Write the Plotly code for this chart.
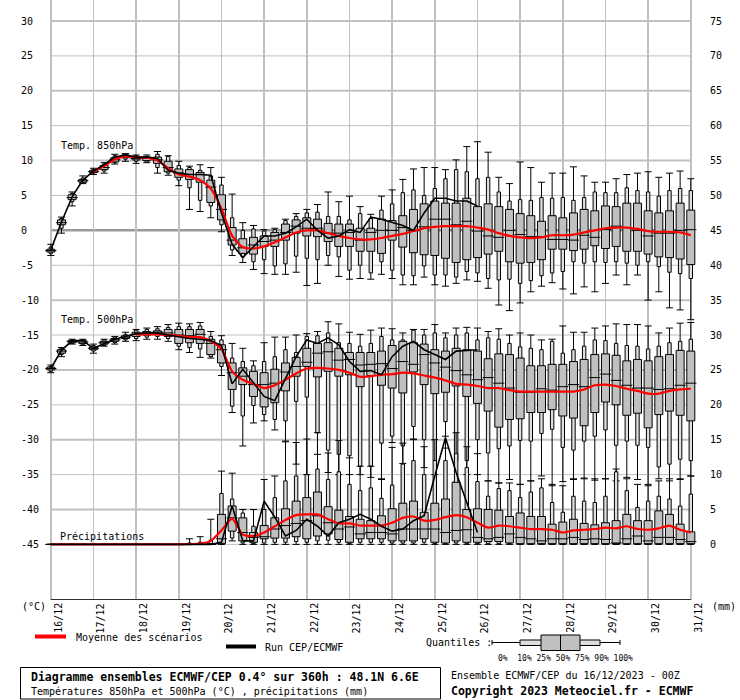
import plotly.graph_objects as go

# ---------------- data ----------------
hours = list(range(0, 361, 6))
day_hours = list(range(0, 361, 24))
day_labels = ["16/12", "17/12", "18/12", "19/12", "20/12", "21/12", "22/12", "23/12",
              "24/12", "25/12", "26/12", "27/12", "28/12", "29/12", "30/12", "31/12"]
temp_ticks = list(range(30, -50, -5))
mm_ticks = list(range(75, -5, -5))

t850_min = [-3.6, -0.4, 3.5, 6.7, 8.0, 8.2, 9.5, 9.9, 9.6, 9.7, 8.2, 7.9, 6.4, 3.0, 2.7, 1.8, -0.2, -3.6, -4.6, -5.6,
            -6.2, -6.3, -6.3, -6.0, -7.9, -7.6, -5.0, -6.6, -7.0, -6.9, -7.0, -6.3, -6.9, -7.8, -7.8, -6.7, -7.8, -8.0, -7.6, -7.1,
            -7.3, -8.3, -10.7, -11.5, -10.4, -8.8, -8.0, -7.5, -8.4, -9.1, -8.1, -8.8, -7.6, -6.4, -7.8, -6.4, -10.0, -8.8, -11.1, -11.4, -12.8]
t850_p10 = [-3.3, 0.3, 4.1, 6.8, 8.2, 8.5, 9.7, 10.2, 9.9, 9.8, 9.0, 8.2, 7.2, 6.1, 4.3, 3.5, 0.8, -2.8, -3.8, -4.5,
            -4.2, -5.1, -4.8, -3.7, -4.0, -4.2, -3.6, -3.8, -5.7, -5.0, -6.1, -4.5, -5.7, -6.4, -6.5, -5.1, -6.4, -6.4, -6.7, -5.9,
            -6.1, -6.9, -7.1, -7.0, -7.6, -7.2, -6.5, -6.1, -5.9, -4.5, -4.7, -4.5, -4.6, -4.5, -4.7, -5.0, -4.5, -5.2, -6.0, -6.2, -6.9]
t850_p25 = [-3.1, 0.8, 4.4, 6.9, 8.3, 8.7, 9.8, 10.4, 10.1, 10.0, 9.6, 8.4, 7.6, 7.3, 6.9, 4.0, 1.5, -2.1, -3.3, -3.4,
            -2.3, -2.3, -1.4, -0.4, -0.8, -0.9, -1.6, -2.3, -2.3, -3.0, -3.0, -3.3, -1.4, -2.4, -3.2, -3.5, -3.6, -4.0, -4.6, -4.2,
            -3.9, -3.4, -3.0, -4.5, -4.7, -4.6, -4.2, -2.7, -2.7, -2.9, -2.7, -2.2, -2.6, -2.3, -3.0, -3.0, -3.4, -3.8, -3.9, -4.1, -4.9]
t850_med = [-2.9, 1.1, 4.7, 7.1, 8.4, 9.0, 10.1, 10.6, 10.3, 10.3, 10.1, 9.0, 8.2, 8.0, 8.0, 6.2, 3.0, -1.4, -2.5, -2.1,
            -1.6, -1.4, -0.3, 0.6, 0.3, 0.3, -0.4, -0.4, -0.3, -1.4, -0.3, 0.0, 0.0, 0.4, 0.0, 0.5, 1.6, 1.6, 0.8, 1.3,
            -0.1, -0.8, -1.0, 0.0, -0.6, -0.9, -0.9, -1.3, -1.3, -1.4, -0.7, -1.0, 0.1, 0.6, 0.4, 0.0, -0.8, -0.4, -0.4, 0.0, 0.1]
t850_p75 = [-2.7, 1.5, 5.1, 7.3, 8.6, 9.3, 10.4, 10.8, 10.5, 10.5, 10.5, 9.9, 8.8, 8.7, 8.3, 7.2, 5.1, 0.4, -1.2, -1.0,
            -0.8, -0.3, 0.9, 1.5, 1.8, 1.6, 1.0, 0.9, 0.9, 0.3, 0.3, 1.6, 1.4, 2.1, 3.0, 3.8, 4.2, 3.9, 3.9, 4.6,
            3.4, 3.8, 3.4, 3.0, 2.4, 2.1, 1.3, 2.1, 1.8, 2.5, 3.0, 2.8, 3.5, 3.4, 3.9, 3.9, 2.8, 2.5, 2.8, 3.9, 2.9]
t850_p90 = [-2.4, 1.7, 5.3, 7.5, 8.7, 9.5, 10.7, 10.9, 10.7, 10.6, 10.9, 10.6, 9.3, 9.0, 8.6, 7.8, 6.5, 1.8, 0.0, 0.2,
            -0.1, 0.1, 1.4, 2.0, 2.5, 2.6, 2.0, 2.0, 1.5, 2.4, 1.7, 2.9, 3.8, 5.4, 5.8, 5.0, 6.0, 7.4, 8.7, 8.4,
            7.4, 7.6, 5.5, 4.2, 4.4, 4.3, 4.7, 4.6, 4.7, 4.3, 4.7, 5.5, 5.4, 5.4, 6.1, 5.7, 5.5, 4.9, 5.7, 6.0, 5.7]
t850_max = [-2.0, 1.9, 5.5, 7.8, 8.9, 9.7, 10.9, 11.0, 10.8, 10.8, 11.3, 10.7, 9.9, 9.2, 9.4, 9.0, 7.6, 5.2, 1.1, 0.7,
            0.1, 0.3, 1.6, 2.4, 3.0, 3.7, 5.5, 4.1, 4.9, 3.4, 2.3, 4.9, 5.8, 7.3, 8.8, 9.0, 9.0, 8.7, 10.1, 12.0,
            12.7, 11.2, 7.6, 6.7, 9.8, 9.0, 6.9, 8.2, 8.2, 9.1, 7.8, 6.9, 6.9, 7.4, 8.0, 8.2, 8.4, 7.6, 8.2, 8.5, 7.4]
t850_mean = [None, None, None, None, 8.4, 9.2, 10.2, 10.6, 10.5, 10.4, 10.0, 8.9, 8.0, 7.7, 7.2, 6.0, 3.1, -0.8, -2.4, -2.6,
             -2.3, -1.7, -1.0, -0.3, 0.0, 0.0, -0.4, -0.8, -1.1, -1.3, -1.3, -1.1, -0.8, -0.5, -0.1, 0.3, 0.5, 0.6, 0.6, 0.6,
             0.4, 0.1, -0.4, -0.8, -1.0, -1.1, -1.0, -0.7, -0.7, -0.6, -0.3, 0.0, 0.3, 0.4, 0.4, 0.2, -0.1, -0.2, -0.2, -0.3, -0.7]
t850_ctrl = [-2.8, 1.2, 4.8, 7.2, 8.5, 9.4, 10.5, 10.8, 10.5, 10.5, 10.3, 8.6, 8.2, 8.0, 8.0, 7.9, 2.5, -2.0, -3.9, -2.4,
             -0.8, -0.8, -0.4, 0.5, 1.6, 0.0, -1.1, -0.8, 0.1, -0.3, 1.9, 1.6, 1.2, 0.7, 0.0, 2.5, 4.6, 4.6, 4.2, 4.2, 3.5]

t500_min = [-20.4, -18.1, -16.3, -16.5, -17.6, -16.6, -16.3, -15.9, -15.8, -15.6, -15.6, -15.9, -17.1, -17.5, -18.2, -18.3, -20.8, -26.1, -30.9, -27.6,
            -27.3, -28.6, -30.3, -33.5, -35.0, -32.1, -34.7, -35.0, -35.0, -35.0, -35.4, -35.7, -30.4, -33.4, -29.9, -34.0, -35.0, -31.2, -36.1, -35.0,
            -35.0, -35.9, -36.2, -35.7, -36.4, -35.9, -35.2, -36.6, -36.0, -35.7, -35.5, -35.8, -35.6, -35.9, -35.4, -35.7, -36.4, -35.6, -35.9, -35.7, -35.2]
t500_p10 = [-20.2, -17.8, -16.2, -16.4, -17.3, -16.5, -16.1, -15.7, -15.5, -15.3, -15.2, -15.5, -16.6, -16.8, -17.0, -18.1, -19.5, -25.2, -26.6, -25.1,
            -26.4, -27.1, -27.3, -24.5, -23.9, -29.0, -31.5, -32.1, -32.3, -33.8, -33.8, -30.5, -29.5, -30.9, -28.1, -30.0, -33.0, -27.4, -33.0, -33.0,
            -30.0, -31.9, -31.3, -30.9, -30.1, -30.2, -29.1, -28.5, -31.1, -31.5, -30.2, -29.5, -28.6, -30.8, -30.2, -30.8, -31.1, -33.9, -33.5, -32.8, -33.0]
t500_p25 = [-20.0, -17.6, -16.1, -16.2, -17.1, -16.3, -15.9, -15.5, -15.2, -15.0, -14.9, -15.2, -16.2, -16.1, -16.2, -17.8, -19.0, -22.8, -22.1, -23.8,
            -25.3, -24.7, -23.0, -20.9, -19.5, -21.0, -20.2, -20.9, -20.7, -22.4, -20.8, -22.2, -22.6, -23.3, -20.3, -22.1, -23.4, -23.2, -22.3, -23.8,
            -24.8, -25.9, -28.2, -27.1, -27.0, -26.1, -26.1, -25.7, -26.6, -26.9, -28.0, -26.1, -24.6, -25.0, -26.5, -26.2, -28.3, -26.4, -25.9, -26.5, -27.3]
t500_med = [-19.8, -17.3, -15.9, -16.0, -16.9, -16.1, -15.7, -15.3, -14.9, -14.7, -14.6, -14.7, -15.0, -15.1, -14.9, -16.2, -17.1, -20.4, -20.9, -22.1,
            -22.1, -21.9, -20.3, -19.5, -18.9, -17.6, -17.4, -18.6, -18.5, -19.3, -19.2, -19.1, -19.8, -18.8, -19.2, -17.8, -19.0, -19.6, -20.1, -20.7,
            -21.4, -21.1, -21.9, -22.6, -23.2, -23.2, -22.7, -22.9, -22.4, -22.1, -22.4, -21.1, -20.6, -21.5, -22.2, -22.6, -22.6, -22.8, -22.7, -22.2, -21.9]
t500_p75 = [-19.6, -17.1, -15.8, -15.8, -16.7, -15.9, -15.5, -15.1, -14.6, -14.5, -14.4, -14.2, -14.2, -14.2, -14.2, -15.6, -16.4, -19.0, -19.7, -20.2,
            -20.4, -19.9, -19.0, -18.2, -16.9, -16.2, -16.1, -16.9, -17.5, -17.5, -17.5, -17.3, -16.5, -15.9, -16.1, -16.3, -17.1, -17.3, -16.9, -17.1,
            -17.3, -18.4, -17.7, -17.8, -18.3, -19.4, -19.4, -19.2, -19.2, -18.8, -18.5, -17.8, -17.7, -17.9, -18.7, -18.5, -18.7, -18.1, -17.8, -17.2, -17.3]
t500_p90 = [-19.5, -16.9, -15.7, -15.7, -16.5, -15.7, -15.3, -14.9, -14.3, -14.2, -14.1, -13.9, -13.8, -13.8, -13.7, -15.2, -15.7, -18.3, -18.8, -19.4,
            -18.8, -18.1, -17.1, -17.5, -15.2, -15.1, -14.7, -16.1, -16.2, -16.6, -16.2, -15.2, -15.7, -15.7, -14.3, -15.0, -14.7, -15.4, -15.0, -14.7,
            -15.7, -15.4, -15.6, -16.2, -16.7, -16.9, -17.1, -15.9, -17.6, -17.1, -16.6, -15.7, -15.8, -16.2, -16.5, -16.6, -17.0, -16.6, -16.1, -15.9, -15.6]
t500_max = [-19.3, -16.8, -15.6, -15.6, -16.3, -15.6, -15.2, -14.6, -14.2, -14.0, -13.8, -13.5, -13.3, -13.4, -13.2, -14.5, -15.1, -16.2, -16.9, -18.7,
            -16.1, -15.3, -15.3, -15.0, -14.8, -14.5, -13.1, -13.4, -14.6, -14.9, -14.3, -14.0, -14.1, -14.7, -14.2, -14.2, -13.5, -14.7, -14.0, -13.9,
            -14.0, -14.5, -14.1, -15.0, -14.7, -15.0, -15.7, -15.6, -13.7, -14.6, -14.6, -14.0, -13.7, -13.4, -13.5, -13.5, -13.7, -14.7, -14.0, -13.3, -13.2]
t500_mean = [None, None, None, None, None, None, None, None, -14.9, -14.9, -14.9, -15.0, -15.1, -15.3, -15.3, -15.9, -17.0, -20.2, -21.4, -22.0,
             -22.6, -22.2, -21.4, -20.5, -19.8, -19.7, -19.8, -20.0, -20.4, -21.0, -20.9, -20.7, -20.6, -20.4, -20.5, -20.8, -21.1, -21.5, -22.0, -22.1,
             -22.3, -22.6, -22.6, -22.9, -23.1, -23.1, -23.1, -23.1, -23.1, -23.1, -22.8, -22.2, -22.1, -22.3, -22.7, -23.0, -23.4, -23.4, -23.0, -22.8, -22.7]
t500_ctrl = [-19.8, -17.2, -15.8, -15.8, -16.9, -16.2, -15.6, -15.2, -14.8, -14.7, -14.7, -15.0, -15.3, -15.5, -15.6, -15.8, -16.5, -22.0, -19.9, -21.8,
             -23.8, -24.4, -21.3, -18.1, -15.7, -16.2, -15.4, -16.4, -18.8, -20.2, -20.1, -20.7, -18.1, -16.6, -15.9, -17.1, -17.8, -18.5, -17.3, -17.2, -17.1]

rr_min = [0, 0, 0, 0, 0, 0, 0, 0, 0, 0, 0, 0, 0, 0, 0, 0, 0, 0.5, 0, 0,
          0, 0, 0, 0, 0, 0, 0, 0, 0, 0, 0, 0, 0, 0, 0, 0, 0, 0, 0, 0,
          0, 0, 0, 0, 0, 0, 0, 0, 0, 0, 0, 0, 0, 0, 0, 0, 0, 0, 0, 0, 0]
rr_p10 = [0, 0, 0, 0, 0, 0, 0, 0, 0, 0, 0, 0, 0, 0, 0, 0, 0, 0.9, 0.2, 0.1,
          0.2, 0.3, 0.3, 0.4, 0.3, 0.5, 0.6, 0.3, 0.1, 0.3, 0.3, 0.3, 0.2, 0.2, 0.2, 0.3, 0.1, 0.1, 0.2, 0.1,
          0.1, 0.1, 0.1, 0.1, 0, 0, 0.1, 0, 0, 0, 0, 0, 0, 0, 0, 0, 0, 0, 0, 0, 0]
rr_p25 = [0, 0, 0, 0, 0, 0, 0, 0, 0, 0, 0, 0, 0, 0, 0, 0, 0.1, 1.9, 0.5, 0.3,
          0.8, 0.9, 0.9, 1.1, 0.8, 1.2, 1.5, 0.7, 0.3, 0.8, 0.8, 0.8, 0.5, 0.5, 0.5, 0.8, 0.3, 0.2, 0.5, 0.3,
          0.3, 0.4, 0.4, 0.2, 0.1, 0.1, 0.1, 0.1, 0.1, 0.1, 0.1, 0.1, 0.1, 0.1, 0.1, 0.1, 0.1, 0.1, 0.1, 0.1, 0.1]
rr_med = [0, 0, 0, 0, 0, 0, 0, 0, 0, 0, 0, 0, 0, 0, 0, 0, 0.8, 3.8, 1.7, 1.0,
          1.1, 2.2, 2.7, 3.0, 3.4, 4.1, 3.1, 2.2, 2.5, 1.5, 1.7, 1.7, 1.5, 2.2, 2.2, 2.2, 2.2, 1.7, 2.0, 2.1,
          1.0, 0.8, 1.0, 1.5, 1.0, 0.8, 0.5, 0.8, 0.8, 1.0, 0.7, 0.8, 0.7, 0.2, 0.8, 1.2, 0.5, 1.0, 1.0, 0.7, 0.4]
rr_p75 = [0, 0, 0, 0, 0, 0, 0, 0, 0, 0, 0, 0, 0, 0, 0, 0.1, 4.3, 5.5, 3.8, 1.7,
          2.7, 3.8, 5.1, 6.2, 6.7, 7.5, 5.4, 4.9, 4.0, 3.6, 3.4, 4.1, 5.1, 5.9, 6.2, 4.6, 5.9, 6.5, 8.9, 5.0,
          5.1, 5.0, 4.9, 4.0, 4.5, 4.0, 4.0, 2.9, 3.2, 3.6, 3.0, 2.8, 3.1, 3.4, 4.3, 3.4, 3.4, 4.8, 4.3, 2.9, 1.8]
rr_p90 = [0, 0, 0, 0, 0, 0, 0, 0, 0, 0, 0, 0, 0, 0.2, 0.3, 0.6, 7.3, 6.5, 4.5, 2.6,
          5.0, 6.7, 9.1, 9.8, 10.0, 10.8, 9.3, 10.4, 8.6, 7.7, 8.1, 6.6, 8.5, 11.5, 12.0, 10.0, 12.0, 12.0, 13.0, 11.0,
          9.0, 6.9, 8.0, 7.7, 6.7, 7.5, 8.1, 6.0, 4.6, 6.9, 6.2, 6.0, 6.9, 10.4, 7.7, 5.3, 6.2, 6.9, 6.5, 5.5, 7.2]
rr_max = [0, 0, 0, 0, 0, 0, 0, 0, 0, 0, 0, 0, 0, 0.8, 1.1, 3.6, 10.5, 10.2, 5.0, 5.0,
          9.3, 9.8, 14.8, 14.6, 15.1, 16.0, 13.1, 14.9, 12.4, 11.2, 11.2, 9.4, 13.9, 14.5, 15.0, 14.0, 15.0, 15.5, 16.0, 14.0,
          13.0, 9.1, 8.8, 8.8, 8.6, 9.1, 9.4, 8.6, 8.4, 9.4, 9.4, 9.4, 9.4, 10.8, 9.4, 8.6, 8.4, 9.1, 9.4, 9.4, 9.8]
rr_mean = [0, 0, 0, 0, 0, 0, 0, 0, 0, 0, 0, 0, 0, 0.05, 0.1, 0.5, 2.0, 3.7, 1.4, 1.2,
           1.7, 2.6, 3.5, 4.2, 4.3, 4.3, 3.6, 3.0, 3.0, 2.7, 2.7, 2.7, 3.1, 3.8, 4.0, 3.4, 3.5, 3.9, 4.2, 3.9,
           3.1, 2.4, 2.7, 2.6, 2.4, 2.2, 2.2, 2.1, 1.7, 2.0, 2.1, 2.2, 2.4, 2.3, 2.6, 2.2, 2.1, 2.3, 2.7, 2.1, 1.7]
rr_ctrl = [0, 0, 0, 0, 0, 0, 0, 0, 0, 0, 0, 0, 0, 0, 0, 0, 0.3, 5.5, 0.5, 0.5,
           6.2, 3.9, 1.2, 2.0, 3.6, 2.6, 1.2, 3.1, 3.6, 4.3, 3.6, 2.6, 1.9, 2.2, 3.4, 4.1, 9.8, 15.3, 10.3, 6.0, 1.7]

# ---------------- geometry / style ----------------
W, H = 740, 700
PL, PR, PT, PB = 38, 704, 0, 600          # plot area in pixels
X0PX, X1PX = 50.8, 690.8                  # pixel positions of 0h and 360h
PXH = (X1PX - X0PX) / 360.0
XR = [-(X0PX - PL) / PXH, 360 + (PR - X1PX) / PXH]
YR = [-52.97, 33.01]
Y2R = [YR[0] + 45, YR[1] + 45]
BOX_W = 8 / PXH
BAR_W = 3.4 / PXH
GRAY = "#c0c0c0"
LIGHT = "#dedede"
FONT = "DejaVu Sans Mono"


def xp(p):
    return (p - PL) / (PR - PL)


def yp(p):
    return (PB - p) / (PB - PT)


fig = go.Figure()


def add_boxes(q, yaxis):
    mn, p10, p25, med, p75, p90, mx = q
    fig.add_trace(go.Bar(x=hours, base=p10, y=[b - a for a, b in zip(p10, p90)], width=BAR_W,
                         marker=dict(color=LIGHT, line=dict(color="black", width=1)),
                         yaxis=yaxis, hoverinfo="skip"))
    fig.add_trace(go.Bar(x=hours, base=p25, y=[b - a for a, b in zip(p25, p75)], width=BOX_W,
                         marker=dict(color=GRAY, line=dict(color="black", width=1)),
                         yaxis=yaxis, hoverinfo="skip"))
    wx, wy = [], []
    for h, a, b, c, d in zip(hours, mn, p10, p90, mx):
        wx += [h, h, None, h, h, None]
        wy += [a, b, None, c, d, None]
    fig.add_trace(go.Scatter(x=wx, y=wy, mode="lines", line=dict(color="black", width=1),
                             yaxis=yaxis, hoverinfo="skip"))
    fig.add_trace(go.Scatter(x=hours + hours, y=mn + mx, mode="markers",
                             marker=dict(symbol="line-ew", size=5, line=dict(color="black", width=1)),
                             yaxis=yaxis, hoverinfo="skip"))
    fig.add_trace(go.Scatter(x=hours, y=med, mode="markers",
                             marker=dict(symbol="line-ew", size=8, line=dict(color="black", width=1)),
                             yaxis=yaxis, hoverinfo="skip"))


add_boxes((t850_min, t850_p10, t850_p25, t850_med, t850_p75, t850_p90, t850_max), "y")
add_boxes((t500_min, t500_p10, t500_p25, t500_med, t500_p75, t500_p90, t500_max), "y")
add_boxes((rr_min, rr_p10, rr_p25, rr_med, rr_p75, rr_p90, rr_max), "y2")

for mean, ctrl, ax in [(t850_mean, t850_ctrl, "y"), (t500_mean, t500_ctrl, "y"), (rr_mean, rr_ctrl, "y2")]:
    fig.add_trace(go.Scatter(x=hours, y=mean, mode="lines", yaxis=ax, hoverinfo="skip",
                             line=dict(color="#ff0000", width=2.2, shape="spline", smoothing=0.6)))
    fig.add_trace(go.Scatter(x=hours[:len(ctrl)], y=ctrl, mode="lines", yaxis=ax, hoverinfo="skip",
                             line=dict(color="black", width=1.6)))

# horizontal grid (only across the forecast period)
shapes = []
for v in temp_ticks:
    if v == 0:
        col, wd = "#999999", 2.5
    else:
        col, wd = GRAY, (2 if v % 10 == 0 else 1)
    shapes.append(dict(type="line", xref="x", yref="y", x0=0, x1=360, y0=v, y1=v,
                       line=dict(color=col, width=wd), layer="below"))
# bottom axis line
shapes.append(dict(type="line", xref="x", yref="paper", x0=0, x1=360, y0=yp(599.5), y1=yp(599.5),
                   line=dict(color="#303030", width=1)))
# legend lines
shapes.append(dict(type="line", xref="paper", yref="paper", x0=xp(35), x1=xp(66), y0=yp(636.5), y1=yp(636.5),
                   line=dict(color="#ff0000", width=4)))
shapes.append(dict(type="line", xref="paper", yref="paper", x0=xp(226), x1=xp(256), y0=yp(646.5), y1=yp(646.5),
                   line=dict(color="black", width=4)))
# quantile key
qy = 642.5
shapes += [
    dict(type="line", xref="paper", yref="paper", x0=xp(492), x1=xp(620), y0=yp(qy), y1=yp(qy), line=dict(color="black", width=1)),
    dict(type="line", xref="paper", yref="paper", x0=xp(492), x1=xp(492), y0=yp(qy - 2.5), y1=yp(qy + 2.5), line=dict(color="black", width=1)),
    dict(type="line", xref="paper", yref="paper", x0=xp(620), x1=xp(620), y0=yp(qy - 2.5), y1=yp(qy + 2.5), line=dict(color="black", width=1)),
    dict(type="rect", xref="paper", yref="paper", x0=xp(520), x1=xp(600), y0=yp(640), y1=yp(645.5),
         fillcolor=LIGHT, line=dict(color="black", width=1)),
    dict(type="rect", xref="paper", yref="paper", x0=xp(541), x1=xp(580), y0=yp(635), y1=yp(650.5),
         fillcolor=GRAY, line=dict(color="black", width=1)),
    dict(type="line", xref="paper", yref="paper", x0=xp(560.5), x1=xp(560.5), y0=yp(635), y1=yp(650.5), line=dict(color="black", width=1)),
]
# title frame
shapes.append(dict(type="rect", xref="paper", yref="paper", x0=xp(20.5), x1=xp(440.5), y0=yp(667.5), y1=yp(699),
                   line=dict(color="black", width=1), fillcolor="rgba(0,0,0,0)"))

ann = []


def txt(s, x, y, size=10, bold=False, anchor="left"):
    ann.append(dict(text=("<b>%s</b>" % s) if bold else s, xref="paper", yref="paper", x=xp(x), y=yp(y),
                    xanchor=anchor, yanchor="middle", showarrow=False,
                    font=dict(family=FONT, size=size, color="black")))


for v in temp_ticks:
    ann.append(dict(text=str(v), xref="paper", yref="y", x=xp(19), y=v, xanchor="left", yanchor="middle",
                    showarrow=False, font=dict(family=FONT, size=10, color="black")))
for m in mm_ticks:
    ann.append(dict(text=str(m), xref="paper", yref="y2", x=xp(708), y=m, xanchor="left", yanchor="middle",
                    showarrow=False, font=dict(family=FONT, size=10, color="black")))
for h, lab in zip(day_hours, day_labels):
    ann.append(dict(text=lab, xref="x", yref="paper", x=h, xshift=7, y=yp(601), yanchor="top", xanchor="center",
                    textangle=-90, showarrow=False, font=dict(family=FONT, size=10, color="black")))

txt("(°C)", 20, 606.5)
txt("(mm)", 710, 606.5)
txt("Temp. 850hPa", 59, 145)
txt("Temp. 500hPa", 59, 319)
txt("Précipitations", 58, 536)
txt("Moyenne des scénarios", 74, 637)
txt("Run CEP/ECMWF", 263, 647)
txt("Quantiles :", 424, 642)
txt("0%  10% 25% 50% 75% 90% 100%", 496, 658.5, size=8)
txt("Diagramme ensembles ECMWF/CEP 0.4° sur 360h : 48.1N 6.6E", 29, 677, size=11.5, bold=True)
txt("Températures 850hPa et 500hPa (°C) , précipitations (mm)", 29, 691.5)
txt("Ensemble ECMWF/CEP du 16/12/2023 - 00Z", 449, 675.5)
txt("Copyright 2023 Meteociel.fr - ECMWF", 449, 691, size=11.5, bold=True)

fig.update_layout(
    width=W, height=H,
    margin=dict(l=PL, r=W - PR, t=PT, b=H - PB, pad=0),
    paper_bgcolor="white", plot_bgcolor="white",
    barmode="overlay", bargap=0, showlegend=False,
    font=dict(family=FONT, size=10, color="black"),
    xaxis=dict(range=XR, tickvals=day_hours, showticklabels=False, ticks="", showgrid=True,
               gridcolor=GRAY, gridwidth=1.5, zeroline=False, showline=False, fixedrange=True),
    yaxis=dict(range=YR, showgrid=False, zeroline=False, showticklabels=False, ticks="", fixedrange=True),
    yaxis2=dict(range=Y2R, overlaying="y", side="right", showgrid=False, zeroline=False,
                showticklabels=False, ticks="", fixedrange=True),
    shapes=shapes, annotations=ann,
)

fig.write_html("out.html", config={"displayModeBar": False, "staticPlot": True},
               post_script="document.body.style.margin='0px';")
